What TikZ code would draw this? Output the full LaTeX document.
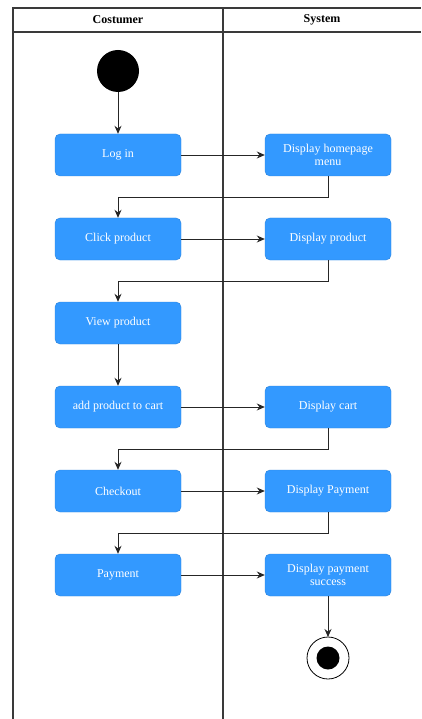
\documentclass[tikz,border=0pt]{standalone}
\usepackage{fontspec}
\setmainfont{Liberation Serif}
\usepackage{xcolor}
\usetikzlibrary{arrows.meta,calc,positioning}

\definecolor{actblue}{HTML}{3399FF}
\definecolor{actedge}{HTML}{2C82D9}
\definecolor{laneline}{HTML}{3A3A3A}

\begin{document}
\begin{tikzpicture}[x=1pt,y=-1pt,
  act/.style={draw=actedge,fill=actblue,rounded corners=5pt,minimum width=126pt,minimum height=42pt,
    text=white,align=center,font=\fontsize{12}{13}\selectfont,inner sep=2pt},
  lanehead/.style={font=\fontsize{12}{13}\selectfont\bfseries},
  flow/.style={draw=black!85,line width=0.9pt,-{Stealth[length=8pt,width=7pt]}}]
  \useasboundingbox (0,0) rectangle (421,719);
  % swimlanes
  \draw[laneline,line width=1.4pt] (13,719) -- (13,8) -- (421,8);
  \draw[laneline,line width=1.1pt] (13,32) -- (421,32);
  \draw[laneline,line width=1.1pt] (223,8) -- (223,719);
  \node[lanehead] (hcust) at (118,20) {Costumer};
  \node[lanehead] (hsys) at (322,20) {System};
  % start and end
  \fill (118,71) circle (21pt);
  \coordinate (start) at (118,92);
  \draw[line width=0.8pt] (328,658) circle (21pt);
  \fill (328,658) circle (11.5pt);
  \coordinate (stop) at (328,637);
  % actions
  \node[act] (login) at (118,155) {Log in};
  \node[act] (click) at (118,239) {Click product};
  \node[act] (view) at (118,323) {View product};
  \node[act] (addcart) at (118,407) {add product to cart};
  \node[act] (checkout) at (118,491) {Checkout};
  \node[act] (pay) at (118,575) {Payment};
  \node[act] (dhome) at (328,155) {Display homepage\\menu};
  \node[act] (dprod) at (328,239) {Display product};
  \node[act] (dcart) at (328,407) {Display cart};
  \node[act] (dpay) at (328,491) {Display Payment};
  \node[act] (dsucc) at (328,575) {Display payment\\success};
  % flows
  \draw[flow] (start) -- (login);
  \draw[flow] (login) -- (dhome);
  \draw[flow] (dhome.south) -- ++(0,21) -| (click.north);
  \draw[flow] (click) -- (dprod);
  \draw[flow] (dprod.south) -- ++(0,21) -| (view.north);
  \draw[flow] (view) -- (addcart);
  \draw[flow] (addcart) -- (dcart);
  \draw[flow] (dcart.south) -- ++(0,21) -| (checkout.north);
  \draw[flow] (checkout) -- (dpay);
  \draw[flow] (dpay.south) -- ++(0,21) -| (pay.north);
  \draw[flow] (pay) -- (dsucc);
  \draw[flow] (dsucc) -- (stop);
\end{tikzpicture}
\end{document}
